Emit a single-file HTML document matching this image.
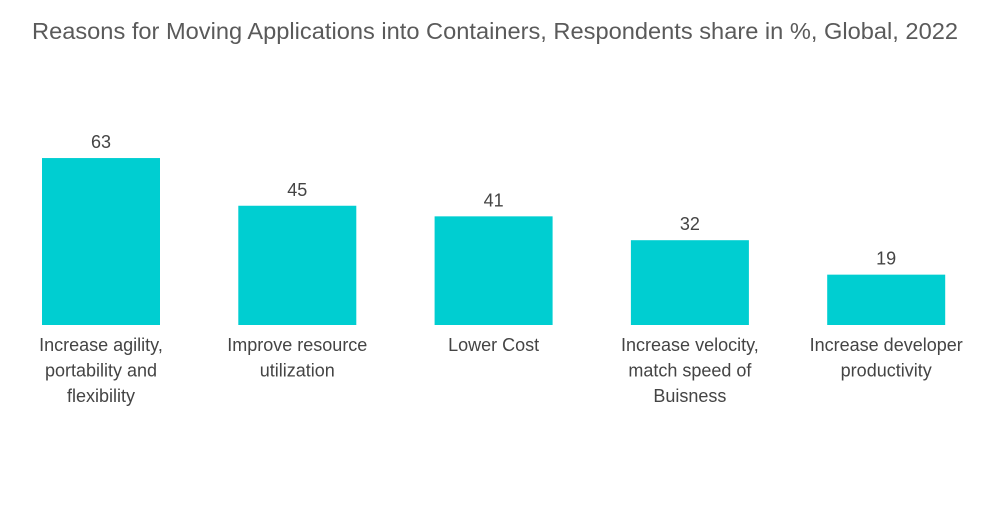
<!DOCTYPE html>
<html><head><meta charset="utf-8"><style>
body{margin:0;background:#fff;width:1000px;height:504px;overflow:hidden;font-family:"Liberation Sans",sans-serif}
</style></head><body>
<svg width="1000" height="504">
<text x="32" y="39" font-size="23" textLength="926" lengthAdjust="spacingAndGlyphs" fill="#5a5a5a">Reasons for Moving Applications into Containers, Respondents share in %, Global, 2022</text>
<g id="bars"></g>
</svg>
<script>
const categories=[["Increase agility,","portability and","flexibility"],["Improve resource","utilization"],["Lower Cost"],["Increase velocity,","match speed of","Buisness"],["Increase developer","productivity"]];
const values=[63,45,41,32,19];
const baseY=325, pxPerUnit=2.65, barW=118, x0=42, step=196.3;
const yScale=v=>baseY-v*pxPerUnit;
const xScale=i=>x0+i*step;
const g=document.getElementById('bars');
const NS='http://www.w3.org/2000/svg';
values.forEach((v,i)=>{
  const r=document.createElementNS(NS,'rect');
  r.setAttribute('x',xScale(i));r.setAttribute('y',yScale(v));
  r.setAttribute('width',barW);r.setAttribute('height',baseY-yScale(v));
  r.setAttribute('fill','#00ced1');
  
  
  g.appendChild(r);
  const t=document.createElementNS(NS,'text');
  t.setAttribute('x',xScale(i)+barW/2);t.setAttribute('y',yScale(v)-10);
  t.setAttribute('text-anchor','middle');t.setAttribute('font-size','18');t.setAttribute('fill','#444');
  t.textContent=v;
  
  
  g.appendChild(t);
  categories[i].forEach((line,j)=>{
    const c=document.createElementNS(NS,'text');
    c.setAttribute('x',xScale(i)+barW/2);c.setAttribute('y',351+j*25.5);
    c.setAttribute('text-anchor','middle');c.setAttribute('font-size','18');c.setAttribute('fill','#444');
    c.textContent=line;
    
    
    g.appendChild(c);
  });
});
</script>
</body></html>
